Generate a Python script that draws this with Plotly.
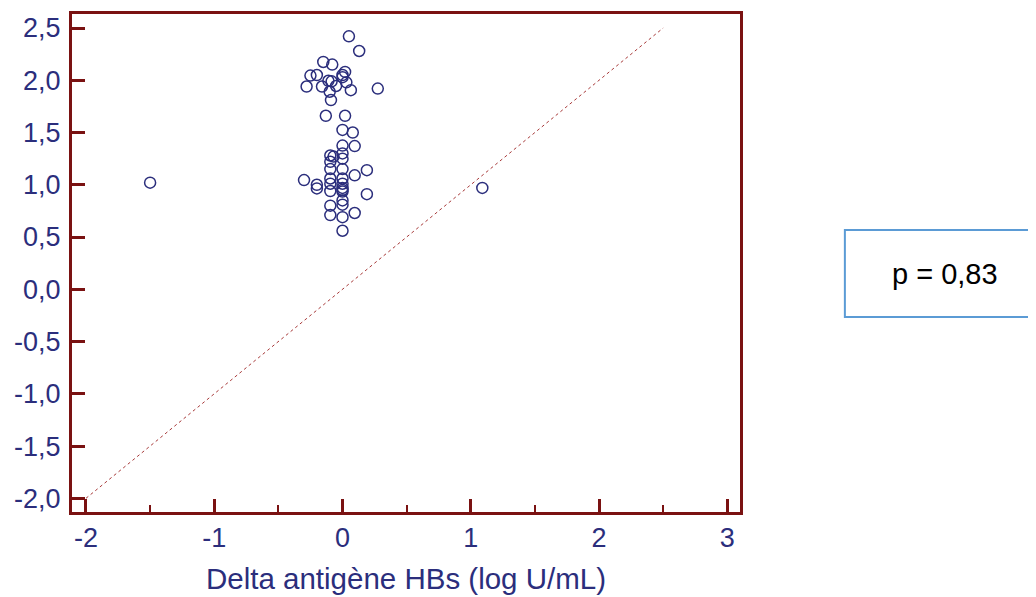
import plotly.graph_objects as go

# Data
delta_x = [-1.5, 1.09, 0.05, 0.13, -0.15, -0.08, -0.25, -0.20, 0.02, 0.0,
           -0.11, -0.085, 0.0, -0.28, -0.16, -0.05, 0.03, 0.065, 0.275, -0.10,
           -0.09, -0.13, 0.02, 0.0, 0.08, 0.0, 0.095, -0.095, -0.07, 0.0,
           0.0, -0.095, -0.095, 0.0, 0.19, 0.095, -0.30, -0.20, -0.20, -0.095,
           -0.095, -0.095, 0.0, 0.0, 0.0, 0.0, 0.0, 0.0, 0.0, 0.19,
           -0.095, -0.095, 0.0, 0.095, 0.0]
y_vals = [1.02, 0.97, 2.42, 2.28, 2.175, 2.15, 2.045, 2.05, 2.08, 2.05,
          1.995, 1.99, 2.03, 1.94, 1.94, 1.945, 1.98, 1.905, 1.92, 1.89,
          1.81, 1.66, 1.66, 1.525, 1.50, 1.375, 1.37, 1.28, 1.27, 1.30,
          1.25, 1.22, 1.15, 1.15, 1.14, 1.09, 1.045, 1.0, 0.965, 1.06,
          1.01, 0.94, 1.06, 1.01, 0.97, 0.935, 0.95, 0.85, 0.81, 0.91,
          0.80, 0.71, 0.69, 0.73, 0.56]

identity_x = [-2.0, 2.5]
identity_y = [-2.0, 2.5]

x_tickvals = [-2, -1, 0, 1, 2, 3]
x_ticktext = ["-2", "-1", "0", "1", "2", "3"]
y_tickvals = [-2.0, -1.5, -1.0, -0.5, 0.0, 0.5, 1.0, 1.5, 2.0, 2.5]
y_ticktext = ["-2,0", "-1,5", "-1,0", "-0,5", "0,0", "0,5", "1,0", "1,5", "2,0", "2,5"]

x_title = "Delta antigène HBs (log U/mL)"
p_text = "p = 0,83"

AXIS = "#7a1212"
NAVY = "#2b2e7c"
FONT = "Liberation Sans, Arial, sans-serif"

fig = go.Figure()
fig.add_trace(go.Scatter(
    x=identity_x, y=identity_y, mode="lines",
    line=dict(color="#a83a3a", width=1, dash="dot"),
    hoverinfo="skip", showlegend=False))
fig.add_trace(go.Scatter(
    x=delta_x, y=y_vals, mode="markers",
    marker=dict(symbol="circle-open", size=11, color=NAVY, line=dict(width=1.5, color=NAVY)),
    showlegend=False))

fig.update_layout(
    width=1028, height=589,
    margin=dict(l=64, r=296, t=6, b=85, pad=0),
    paper_bgcolor="white", plot_bgcolor="white",
    font=dict(family=FONT, color=NAVY, size=28),
    showlegend=False,
    xaxis=dict(
        range=[-2.109, 3.099], showgrid=False, zeroline=False, automargin=False,
        showline=True, linecolor=AXIS, linewidth=3, mirror=True,
        ticks="inside", ticklen=13, tickwidth=3, tickcolor=AXIS,
        tickvals=x_tickvals, ticktext=x_ticktext,
        tickfont=dict(family=FONT, size=27, color=NAVY),
        minor=dict(ticks="inside", ticklen=7, tickwidth=2, tickcolor=AXIS, dtick=0.5, showgrid=False),
        title=dict(text=x_title, font=dict(family=FONT, size=29.5, color=NAVY), standoff=16),
    ),
    yaxis=dict(
        range=[-2.131, 2.634], showgrid=False, zeroline=False, automargin=False,
        showline=True, linecolor=AXIS, linewidth=3, mirror=True,
        ticks="inside", ticklen=13, tickwidth=3, tickcolor=AXIS,
        tickvals=y_tickvals, ticktext=y_ticktext,
        tickfont=dict(family=FONT, size=27, color=NAVY),
        ticklabelstandoff=3,
    ),
)

fig.add_shape(type="rect", xref="paper", yref="paper",
              x0=1.157, x1=1.46, y0=0.3916, y1=0.5663,
              line=dict(color="#5b9bd5", width=2), fillcolor="white")
fig.add_annotation(xref="paper", yref="paper", x=1.307, y=0.478,
                   xanchor="center", yanchor="middle",
                   text=p_text, showarrow=False,
                   font=dict(family=FONT, size=29, color="black"))

fig.write_html("out.html")
